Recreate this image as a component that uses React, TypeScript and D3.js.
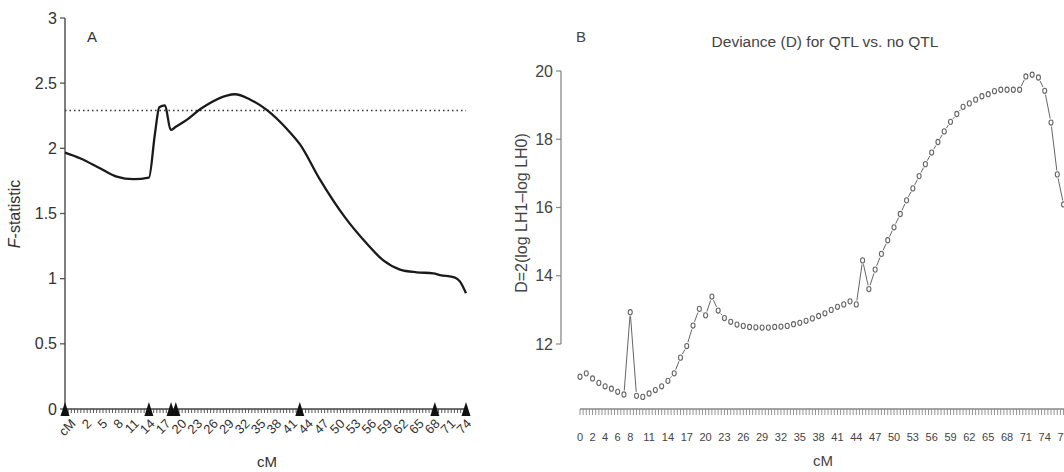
import React from 'react';
import { scaleLinear, line, curveMonotoneX, range } from 'd3';

// Panel A: F-statistic along the linkage group (x in axis units, label = unit - 1)
const fPos = [0, 2.84, 6.63, 9.8, 12.95, 15.9, 17.06, 17.87, 18.95, 20.03, 21.0, 23.07, 25.6, 26.86, 30.65, 32.2, 35.06, 38.23, 42.02, 44.54, 48.33, 53.07, 57.18, 60.33, 63.5, 66.66, 69.8, 71.08, 73.92, 74.87, 76];
const fStat = [1.967, 1.924, 1.847, 1.783, 1.763, 1.775, 2.116, 2.315, 2.33, 2.141, 2.166, 2.218, 2.3, 2.333, 2.405, 2.415, 2.375, 2.295, 2.15, 2.03, 1.76, 1.47, 1.27, 1.14, 1.07, 1.049, 1.041, 1.028, 1.008, 0.977, 0.888];
const threshold = 2.29;
const markersA = [0, 15.9, 20.1, 21.0, 44.5, 70.1, 76];
const tickPosA = range(0, 76, 3);
const tickLabelsA = ['cM', '2', '5', '8', '11', '14', '17', '20', '23', '26', '29', '32', '35', '38', '41', '44', '47', '50', '53', '56', '59', '62', '65', '68', '71', '74'];
const yTicksA = [0, 0.5, 1, 1.5, 2, 2.5, 3];

// Panel B: deviance at each cM
const devCM = range(0, 78);
const deviance = [11.04, 11.14, 10.99, 10.86, 10.76, 10.69, 10.6, 10.52, 12.93, 10.48, 10.45, 10.55, 10.65, 10.76, 10.92, 11.14, 11.6, 11.94, 12.54, 13.03, 12.84, 13.39, 12.98, 12.76, 12.65, 12.57, 12.53, 12.5, 12.49, 12.48, 12.48, 12.5, 12.51, 12.53, 12.58, 12.62, 12.68, 12.75, 12.82, 12.9, 13.0, 13.09, 13.16, 13.25, 13.16, 14.45, 13.61, 14.18, 14.64, 15.04, 15.42, 15.81, 16.21, 16.56, 16.92, 17.27, 17.61, 17.92, 18.23, 18.51, 18.74, 18.95, 19.05, 19.16, 19.26, 19.32, 19.41, 19.45, 19.45, 19.45, 19.45, 19.84, 19.89, 19.81, 19.42, 18.49, 16.97, 16.09];
const xLabelsB = [0, 2, 4, 6, 8, 11, 14, 17, 20, 23, 26, 29, 32, 35, 38, 41, 44, 47, 50, 53, 56, 59, 62, 65, 68, 71, 74, 77];
const yTicksB = [12, 14, 16, 18, 20];

const font = '"Liberation Sans", Arial, sans-serif';

function App() {
  const xA = scaleLinear().domain([0, 76]).range([65, 466]);
  const yA = scaleLinear().domain([0, 3]).range([409, 18]);
  const xB = scaleLinear().domain([0, 77]).range([580, 580 + 77 * 6.28]);
  const yB = scaleLinear().domain([12, 20]).range([344, 71]);

  const fLine = line<number>()
    .x((d, i) => xA(fPos[i]))
    .y((d) => yA(d))
    .curve(curveMonotoneX);

  // type "b" look: segments stop short of each point
  const pts = deviance.map((d, i) => [xB(devCM[i]), yB(d)]);
  const gap = 4;
  const segs = [];
  for (let i = 0; i < pts.length - 1; i++) {
    const [x1, y1] = pts[i];
    const [x2, y2] = pts[i + 1];
    const dx = x2 - x1, dy = y2 - y1;
    const len = Math.sqrt(dx * dx + dy * dy);
    if (len <= gap * 2 + 0.5) continue;
    const ux = dx / len, uy = dy / len;
    segs.push([x1 + ux * gap, y1 + uy * gap, x2 - ux * gap, y2 - uy * gap]);
  }

  const minorA = range(0, 76.01, 0.6);
  const minorB = range(0, 77.6, 0.5);

  return (
    <svg width={1064} height={472} style={{ position: 'absolute', left: 0, top: 0, background: '#fff' }} fontFamily={font}>
      {/* ---------- Panel A ---------- */}
      <g>
        <line x1={65} x2={65} y1={yA(3)} y2={yA(0)} stroke="#555" strokeWidth={1.5} />
        {yTicksA.map((t) => (
          <g key={t}>
            <line x1={60} x2={65} y1={yA(t)} y2={yA(t)} stroke="#555" strokeWidth={1.3} />
            <text x={57} y={yA(t)} dy="0.35em" textAnchor="end" fontSize={16} fill="#333">{t}</text>
          </g>
        ))}
        <text x={87} y={42} fontSize={15} fill="#333">A</text>
        <text transform={`translate(20,214) rotate(-90)`} textAnchor="middle" fontSize={16} fill="#333">
          <tspan fontStyle="italic">F</tspan>-statistic
        </text>

        <line x1={xA(0)} x2={xA(76)} y1={yA(threshold)} y2={yA(threshold)} stroke="#333" strokeWidth={1.5} strokeDasharray="1.5,3" />
        <path d={fLine(fStat) || ''} fill="none" stroke="#1a1a1a" strokeWidth={2.3} />

        <line x1={xA(0)} x2={xA(76)} y1={409} y2={409} stroke="#444" strokeWidth={1.5} />
        {minorA.map((m, i) => (
          <line key={i} x1={xA(m)} x2={xA(m)} y1={409} y2={413} stroke="#444" strokeWidth={0.9} />
        ))}
        {markersA.map((m, i) => (
          <path key={i} d={`M${xA(m) - 4.5},416 L${xA(m)},402 L${xA(m) + 4.5},416 Z`} fill="#111" />
        ))}
        {tickPosA.map((p, i) => (
          <text key={i} transform={`translate(${xA(p) + 5},418) rotate(-45)`} dy="0.7em" textAnchor="end" fontSize={13} fill="#333">
            {tickLabelsA[i]}
          </text>
        ))}
        <text x={267} y={467} textAnchor="middle" fontSize={15} fill="#333">cM</text>
      </g>

      {/* ---------- Panel B ---------- */}
      <g>
        <text x={576} y={42} fontSize={15} fill="#444">B</text>
        <text x={825} y={47} textAnchor="middle" fontSize={15.5} fill="#444">Deviance (D) for QTL vs. no QTL</text>
        <text transform={`translate(527,213) rotate(-90)`} textAnchor="middle" fontSize={16} fill="#444">D=2(log LH1–log LH0)</text>

        <line x1={561} x2={561} y1={yB(20)} y2={yB(12)} stroke="#888" strokeWidth={1.3} />
        {yTicksB.map((t) => (
          <g key={t}>
            <line x1={556} x2={561} y1={yB(t)} y2={yB(t)} stroke="#888" strokeWidth={1.2} />
            <text x={553} y={yB(t)} dy="0.35em" textAnchor="end" fontSize={16} fill="#444">{t}</text>
          </g>
        ))}

        <line x1={xB(0)} x2={1064} y1={409} y2={409} stroke="#888" strokeWidth={1.3} />
        {minorB.map((m, i) => (
          <line key={i} x1={xB(m)} x2={xB(m)} y1={409} y2={415} stroke="#888" strokeWidth={0.9} />
        ))}
        {xLabelsB.map((l) => (
          <text key={l} x={xB(l)} y={441} textAnchor="middle" fontSize={11} fill="#444">{l}</text>
        ))}
        <text x={823} y={466} textAnchor="middle" fontSize={15} fill="#444">cM</text>

        {segs.map((s, i) => (
          <line key={i} x1={s[0]} y1={s[1]} x2={s[2]} y2={s[3]} stroke="#666" strokeWidth={1} />
        ))}
        {pts.map((p, i) => (
          <ellipse key={i} cx={p[0]} cy={p[1]} rx={2} ry={2.6} fill="none" stroke="#666" strokeWidth={1.1} />
        ))}
      </g>
    </svg>
  );
}

export default App;
